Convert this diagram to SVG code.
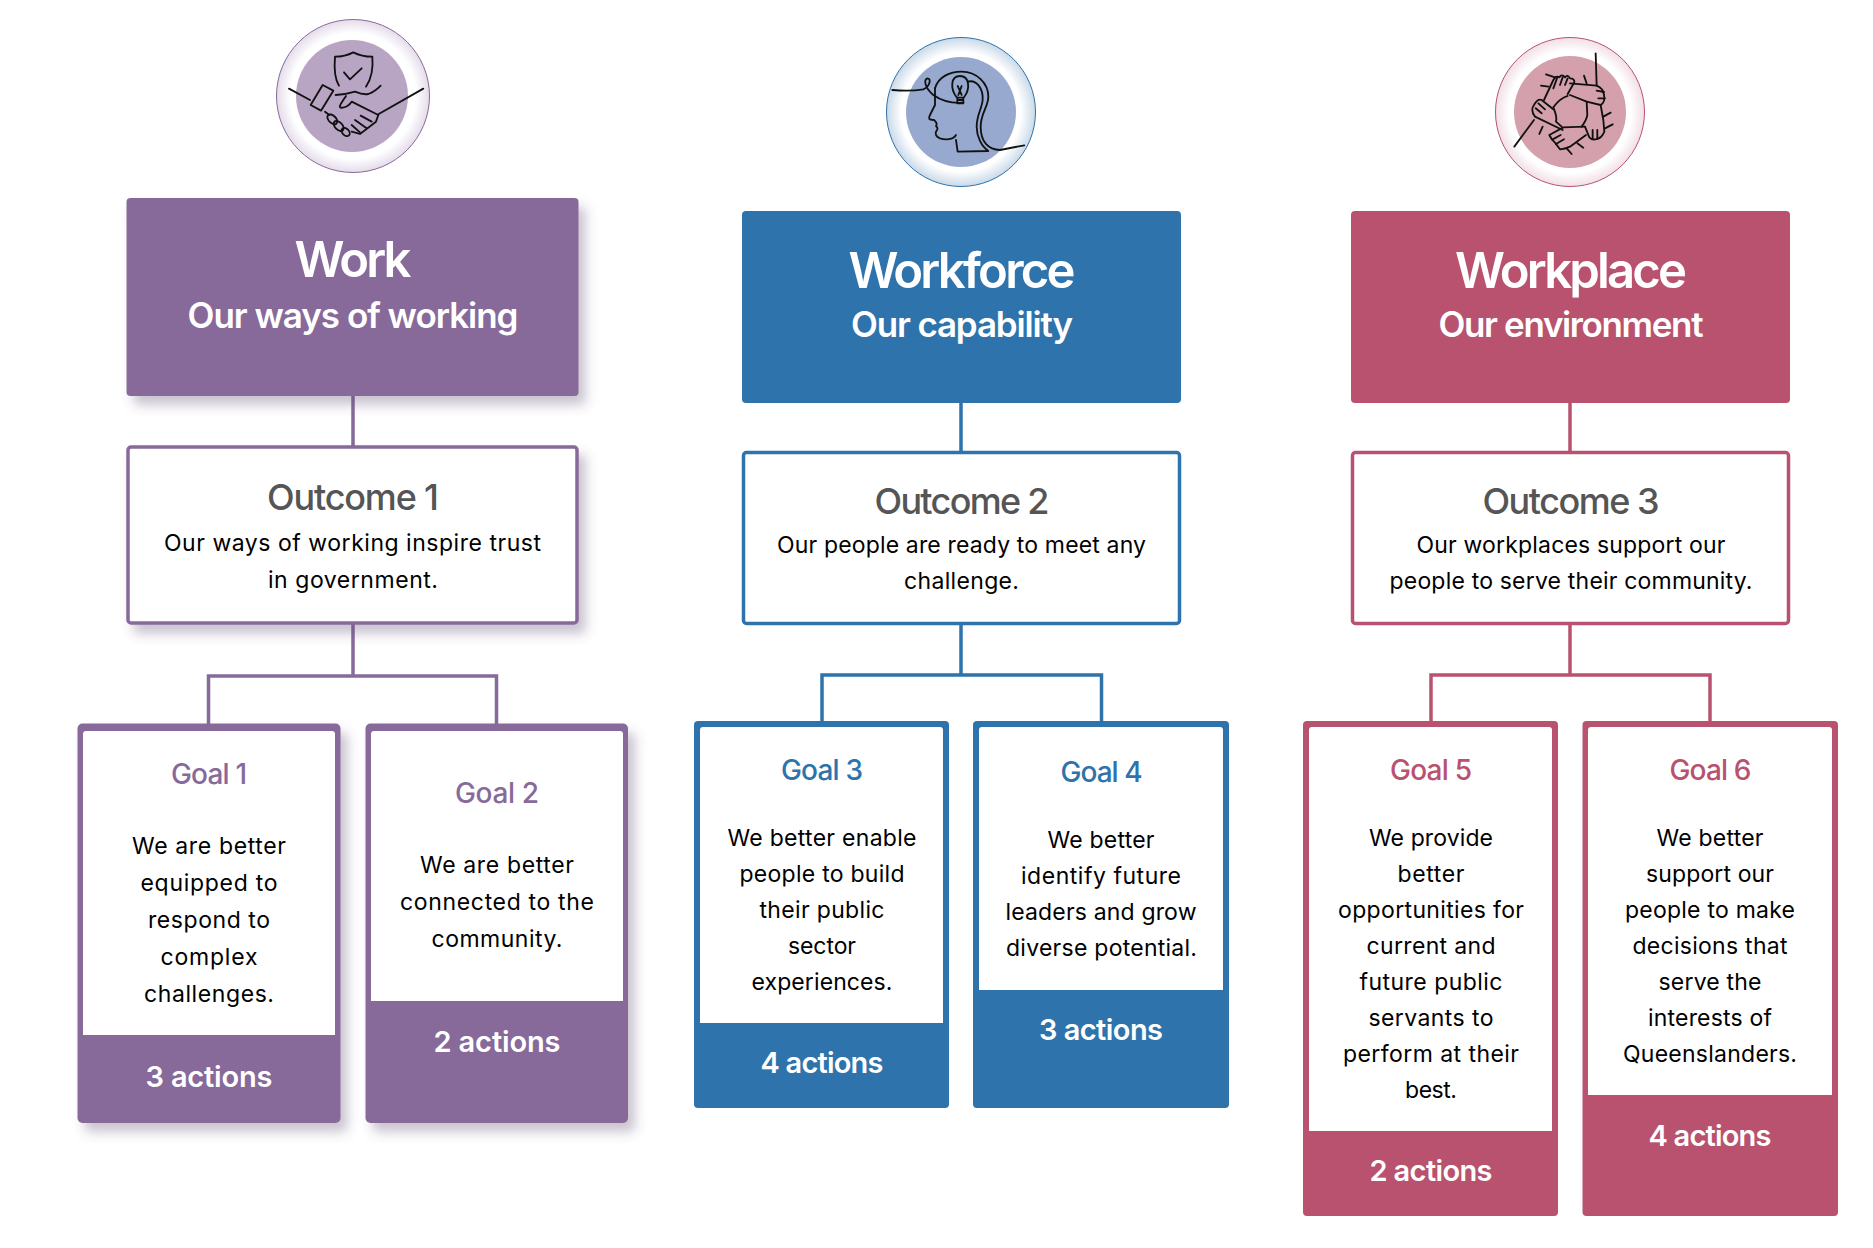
<svg xmlns="http://www.w3.org/2000/svg" width="1873" height="1248" viewBox="0 0 1873 1248">
<style>
text{font-family:Inter,"Liberation Sans",sans-serif;text-anchor:middle}
.h1{font-size:49px;font-weight:600;fill:#fff}
.h2{font-size:35px;font-weight:600;fill:#fff}
.oc{font-size:36px;font-weight:500;fill:#555}
.b{font-size:23px;fill:#000}
.gt{font-size:28px;font-weight:500}
.ac{font-size:29px;font-weight:600;fill:#fff}
.pu{fill:#876a9a}.bl{fill:#2e73ab}.ro{fill:#b8526f}
.w{fill:#fff}
.opu{fill:#fff;stroke:#876a9a;stroke-width:3.5}
.obl{fill:#fff;stroke:#2e73ab;stroke-width:3.5}
.oro{fill:#fff;stroke:#b8526f;stroke-width:3.5}
.cpu,.cbl,.cro{fill:none;stroke-width:3.5}
.cpu{stroke:#876a9a}.cbl{stroke:#2e73ab}.cro{stroke:#b8526f}
.ink{fill:none;stroke:#111;stroke-width:5.5;stroke-linecap:round;stroke-linejoin:round}
</style>
<defs>
<filter id="sh" x="-15%" y="-15%" width="130%" height="130%"><feDropShadow dx="7" dy="9" stdDeviation="6" flood-color="#5a4570" flood-opacity=".32"/></filter>
<radialGradient id="rp"><stop offset=".82" stop-color="#fff"/><stop offset="1" stop-color="#e4dcea"/></radialGradient>
<radialGradient id="rb"><stop offset=".8" stop-color="#fff"/><stop offset="1" stop-color="#c9d9e8"/></radialGradient>
<radialGradient id="rr"><stop offset=".82" stop-color="#fff"/><stop offset="1" stop-color="#f1dfe5"/></radialGradient>
</defs>

<g id="connectors">
<path class="cpu" d="M353 396V446M353 624V676M208.500 724V676H496.500V724"/>
<path class="cbl" d="M961 402V452M961 624V675M822 721V675H1101.500V721"/>
<path class="cro" d="M1570 402V452M1570 624V675M1431 721V675H1710V721"/>
</g>

<g id="icon-work">
<circle cx="353" cy="96" r="76.500" fill="url(#rp)" stroke="#876a9a" stroke-width="1"/>
<circle cx="352" cy="96" r="56" fill="#b7a5c3"/>
<g class="ink" transform="translate(240,0) scale(.3333)">
<path d="M147 266L210 300M550 266L415 343"/>
<path d="M248 255L280 272L243 332L212 315Z"/>
<path d="M297 257Q280 230 285 170Q315 170 340 157Q365 170 397 170Q402 225 378 260"/>
<path d="M312 217L330 238L365 205"/>
<path d="M287 285Q320 283 345 275Q370 285 385 282Q405 275 422 257"/>
<path d="M318 288C300 315 292 325 308 323Q325 320 335 305L415 345L408 365L360 402L335 395"/>
<path d="M362 347L395 365M345 360L380 385M335 375L360 397M255 335L268 345"/>
<ellipse cx="277" cy="358" rx="18" ry="11" transform="rotate(45 277 358)"/>
<ellipse cx="296" cy="378" rx="18" ry="11" transform="rotate(45 296 378)"/>
<ellipse cx="317" cy="396" rx="14" ry="10" transform="rotate(45 317 396)"/>
</g>
</g>

<g id="icon-workforce">
<circle cx="961" cy="112" r="74.500" fill="url(#rb)" stroke="#2e73ab" stroke-width="1"/>
<circle cx="961" cy="112" r="55" fill="#97a9ce"/>
<g class="ink" transform="translate(860,20) scale(.3333)">
<path d="M97 210Q150 215 190 208C210 200 215 175 202 175C190 178 195 205 220 225C245 243 280 250 310 248"/>
<path d="M225 205C235 170 270 155 305 155C350 155 385 190 385 230C385 260 362 280 362 320C362 365 385 390 420 390L493 376"/>
<path d="M323 185C350 178 370 205 368 240C366 265 350 285 350 320C350 350 365 380 385 393L293 395L288 360"/>
<path d="M288 345C280 360 255 360 240 355C228 350 225 342 228 335Q237 325 228 318Q234 310 222 300C205 300 205 295 210 285L225 255L225 205"/>
<path d="M290 232C270 205 272 168 300 168C328 168 332 205 312 232"/>
<path d="M292 233H310V250H292ZM293 198L305 225M305 198L295 225M292 240H310"/>
</g>
</g>

<g id="icon-workplace">
<circle cx="1570" cy="112" r="74.500" fill="url(#rr)" stroke="#b8526f" stroke-width="1"/>
<circle cx="1570" cy="112" r="56" fill="#d3a0ab"/>
<g class="ink" transform="translate(1470,20) scale(.3333)">
<path d="M377 100L380 197M133 380L192 300"/>
<path d="M222 240L250 180Q258 165 268 172Q275 160 285 172Q293 162 300 175Q314 175 313 187L293 222"/>
<path d="M262 172L250 205M278 172L270 195M293 175L285 195"/>
<path d="M300 190L380 197Q400 205 402 225Q407 245 392 255L350 245"/>
<path d="M380 212L402 216M385 235L405 235"/>
<path d="M392 255L400 300L403 335Q395 355 380 357Q368 362 358 352L345 320"/>
<path d="M368 355L368 330M382 355L382 330"/>
<path d="M345 320L280 322L238 345Q245 360 255 368L270 388Q285 387 300 380L348 345"/>
<path d="M248 358L272 345M258 372L282 358"/>
<path d="M278 330L195 290Q180 270 192 255Q203 235 215 240L250 268"/>
<path d="M197 265L215 280M205 250L225 268"/>
<path d="M293 228Q270 235 250 262Q262 290 258 305L275 320M335 320Q350 300 352 285L350 245Q325 235 300 225"/>
<path d="M228 163L255 172M213 197L235 200M342 167L350 190M400 290L422 278M405 325L428 313M208 342L218 320M290 385L305 402M322 370L340 383"/>
</g>
</g>

<g id="work">
<rect x="126.500" y="198" width="452" height="198" rx="4" class="pu" filter="url(#sh)"/>
<text x="353" y="277" class="h1" textLength="117">Work</text>
<text x="353" y="328" class="h2" textLength="331">Our ways of working</text>
</g>
<g id="workforce">
<rect x="742" y="211" width="439" height="192" rx="4" class="bl"/>
<text x="962" y="288" class="h1" textLength="227">Workforce</text>
<text x="962" y="337" class="h2" textLength="222">Our capability</text>
</g>
<g id="workplace">
<rect x="1351" y="211" width="439" height="192" rx="4" class="ro"/>
<text x="1571" y="288" class="h1" textLength="232">Workplace</text>
<text x="1571" y="337" class="h2" textLength="265">Our environment</text>
</g>

<g id="outcome1">
<rect x="128" y="447" width="449" height="176" rx="3" class="opu" filter="url(#sh)"/>
<text x="353" y="510" class="oc" textLength="172">Outcome 1</text>
<text x="352.500" y="551" class="b" textLength="377">Our ways of working inspire trust</text>
<text x="353" y="588" class="b" textLength="170">in government.</text>
</g>
<g id="outcome2">
<rect x="743.500" y="452.500" width="436" height="171" rx="3" class="obl"/>
<text x="962" y="513.500" class="oc" textLength="175">Outcome 2</text>
<text x="961.500" y="553" class="b" textLength="369">Our people are ready to meet any</text>
<text x="961.500" y="589" class="b" textLength="115">challenge.</text>
</g>
<g id="outcome3">
<rect x="1352.500" y="452.500" width="436" height="171" rx="3" class="oro"/>
<text x="1571" y="513.500" class="oc" textLength="177">Outcome 3</text>
<text x="1571" y="553" class="b" textLength="309">Our workplaces support our</text>
<text x="1571" y="589" class="b" textLength="363">people to serve their community.</text>
</g>

<g id="goal1">
<rect x="77.500" y="723.500" width="263" height="399.500" rx="5" class="pu" filter="url(#sh)"/>
<path class="w" d="M83 734a3 3 0 0 1 3-3H332a3 3 0 0 1 3 3V1035H83Z"/>
<text x="209" y="784" class="gt pu" textLength="76">Goal 1</text>
<text x="209" y="854" class="b" textLength="154">We are better</text>
<text x="209" y="891" class="b" textLength="137">equipped to</text>
<text x="209" y="928" class="b" textLength="122">respond to</text>
<text x="209" y="965" class="b" textLength="97">complex</text>
<text x="209" y="1002" class="b" textLength="130">challenges.</text>
<text x="209" y="1086.500" class="ac" textLength="127">3 actions</text>
</g>
<g id="goal2">
<rect x="365.500" y="723.500" width="262.500" height="399.500" rx="5" class="pu" filter="url(#sh)"/>
<path class="w" d="M371 734a3 3 0 0 1 3-3H620a3 3 0 0 1 3 3V1001H371Z"/>
<text x="497" y="803" class="gt pu" textLength="84">Goal 2</text>
<text x="497" y="873" class="b" textLength="154">We are better</text>
<text x="497" y="910" class="b" textLength="194">connected to the</text>
<text x="497" y="947" class="b" textLength="131">community.</text>
<text x="497" y="1052" class="ac" textLength="127">2 actions</text>
</g>

<g id="goal3">
<rect x="694" y="721" width="255" height="387" rx="4" class="bl"/>
<path class="w" d="M700 730a3 3 0 0 1 3-3H940a3 3 0 0 1 3 3V1023H700Z"/>
<text x="822" y="779.500" class="gt bl" textLength="82">Goal 3</text>
<text x="822" y="846" class="b" textLength="189">We better enable</text>
<text x="822" y="882" class="b" textLength="165">people to build</text>
<text x="822" y="918" class="b" textLength="125">their public</text>
<text x="822" y="954" class="b" textLength="68">sector</text>
<text x="822" y="990" class="b" textLength="141">experiences.</text>
<text x="822" y="1073" class="ac" textLength="123">4 actions</text>
</g>
<g id="goal4">
<rect x="973" y="721" width="256" height="387" rx="4" class="bl"/>
<path class="w" d="M979 730a3 3 0 0 1 3-3H1220a3 3 0 0 1 3 3V990H979Z"/>
<text x="1101.500" y="782" class="gt bl" textLength="82">Goal 4</text>
<text x="1101" y="848" class="b" textLength="107">We better</text>
<text x="1101" y="884" class="b" textLength="160">identify future</text>
<text x="1101" y="920" class="b" textLength="191">leaders and grow</text>
<text x="1101.500" y="956" class="b" textLength="191">diverse potential.</text>
<text x="1101" y="1040" class="ac" textLength="124">3 actions</text>
</g>

<g id="goal5">
<rect x="1303" y="721" width="255" height="495" rx="4" class="ro"/>
<path class="w" d="M1309 730a3 3 0 0 1 3-3H1549a3 3 0 0 1 3 3V1131H1309Z"/>
<text x="1431" y="779.500" class="gt ro" textLength="82">Goal 5</text>
<text x="1431" y="846" class="b" textLength="124">We provide</text>
<text x="1431" y="882" class="b" textLength="67">better</text>
<text x="1431" y="918" class="b" textLength="186">opportunities for</text>
<text x="1431" y="954" class="b" textLength="129">current and</text>
<text x="1431" y="990" class="b" textLength="143">future public</text>
<text x="1431" y="1026" class="b" textLength="125">servants to</text>
<text x="1431" y="1062" class="b" textLength="176">perform at their</text>
<text x="1431" y="1098" class="b" textLength="52">best.</text>
<text x="1431" y="1181" class="ac" textLength="123">2 actions</text>
</g>
<g id="goal6">
<rect x="1582.500" y="721" width="255.500" height="495" rx="4" class="ro"/>
<path class="w" d="M1588 730a3 3 0 0 1 3-3H1829a3 3 0 0 1 3 3V1095H1588Z"/>
<text x="1710.500" y="780" class="gt ro" textLength="82">Goal 6</text>
<text x="1710" y="846" class="b" textLength="107">We better</text>
<text x="1710" y="882" class="b" textLength="128">support our</text>
<text x="1710" y="918" class="b" textLength="170">people to make</text>
<text x="1710" y="954" class="b" textLength="155">decisions that</text>
<text x="1710" y="990" class="b" textLength="103">serve the</text>
<text x="1710" y="1026" class="b" textLength="124">interests of</text>
<text x="1710" y="1062" class="b" textLength="174">Queenslanders.</text>
<text x="1710" y="1146" class="ac" textLength="123">4 actions</text>
</g>
</svg>
